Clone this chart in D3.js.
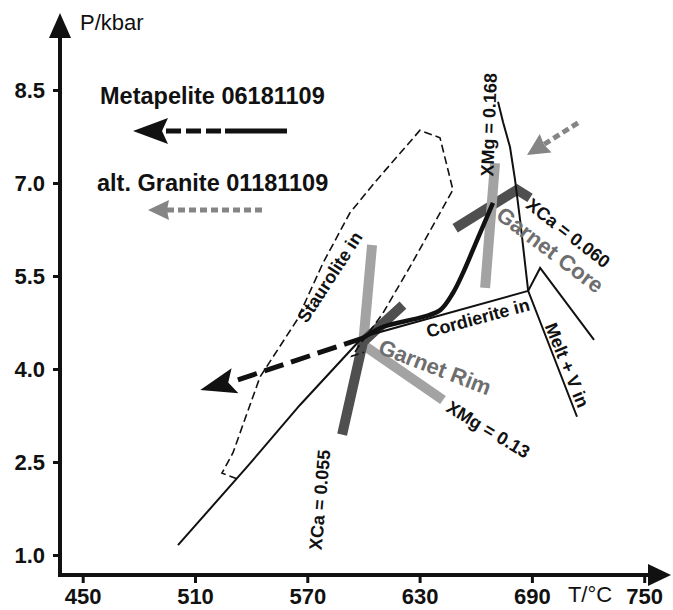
<!DOCTYPE html>
<html>
<head>
<meta charset="utf-8">
<script src="https://cdn.jsdelivr.net/npm/d3@7"></script>
<style>
  body { margin: 0; background: #fff; }
  svg { display: block; font-family: "Liberation Sans", Arial, sans-serif; }
</style>
</head>
<body>
<svg id="chart"></svg>
<script>
// ── Data (T in °C, P in kbar) ───────────────────────────────────────────────
const xTicks = [450, 510, 570, 630, 690, 750];
const yTicks = [1.0, 2.5, 4.0, 5.5, 7.0, 8.5];

// Staurolite-in field outline (dashed)
const stauroliteIn = [[532.4, 2.23], [524.4, 2.32], [530.3, 2.65], [544.7, 3.87], [564.5, 4.79],
  [578.4, 5.71], [592.8, 6.52], [607.2, 7.05], [630.2, 7.85], [640.9, 7.73], [647.8, 6.89],
  [624.9, 5.65], [610.4, 4.90], [598.1, 4.39], [593.9, 4.21], [600.3, 4.27]];

// Thin reaction lines
const cordieriteIn = [[500.9, 1.16], [537.8, 2.42], [566.1, 3.42], [599.8, 4.52], [688.0, 5.26]];
const meltIn = [[671.9, 8.31], [674.6, 7.98], [678.3, 7.58], [681.0, 7.05], [683.7, 6.40],
  [688.0, 5.26], [714.1, 3.23]];
const branchLine = [[688.0, 5.26], [694.4, 5.63], [723.2, 4.47]];

// Garnet isopleths
const coreXMg = [[670.3, 7.32], [665.0, 5.31]];
const coreXCa = [[649.0, 6.27], [682.1, 6.89], [689.0, 6.76]];
const rimXMg  = [[604.6, 6.00], [599.8, 4.39], [642.5, 3.50]];
const rimXCa  = [[621.1, 5.03], [599.8, 4.44], [588.6, 2.94]];

// Metapelite P-T path
const pathSolid  = [[669.2, 6.68], [660.7, 6.08], [653.2, 5.55], [647.9, 5.23], [641.0, 4.95],
  [631.9, 4.84], [610.5, 4.68], [599.8, 4.50]];
const pathDashed = [[599.8, 4.50], [532.4, 3.82]];
const pathTip    = [512.8, 3.66];

// Altered granite arrow
const graniteTail = [714.6, 7.97];
const graniteTip  = [687.4, 7.45];

// Labels: text, T, P, rotation
const labels = [
  { text: 'Staurolite in', T: 582.1, P: 5.48, rot: -57, size: 18, fill: '#111' },
  { text: 'Cordierite in', T: 661.2, P: 4.82, rot: -15, size: 18, fill: '#111' },
  { text: 'Melt + V in',   T: 708.7, P: 4.06, rot: 68,  size: 18, fill: '#111' },
  { text: 'XMg = 0.168',   T: 667.1, P: 7.94, rot: -88, size: 18, fill: '#111' },
  { text: 'XCa = 0.060',   T: 709.3, P: 6.19, rot: 38,  size: 18, fill: '#111' },
  { text: 'Garnet Core',   T: 699.7, P: 5.92, rot: 37,  size: 22, fill: '#6e6e6e' },
  { text: 'Garnet Rim',    T: 638.2, P: 4.03, rot: 21,  size: 22, fill: '#6e6e6e' },
  { text: 'XMg = 0.13',    T: 666.6, P: 3.02, rot: 31,  size: 18, fill: '#111' },
  { text: 'XCa = 0.055',   T: 576.8, P: 1.89, rot: -85, size: 18, fill: '#111' },
];

// ── Setup ───────────────────────────────────────────────────────────────────
const W = 673, H = 610;
const svg = d3.select('#chart').attr('width', W).attr('height', H);

const x = d3.scaleLinear().domain([450, 750]).range([82.7, 644.2]);
const y = d3.scaleLinear().domain([1, 8.5]).range([555, 90]);

const line = d3.line().x(d => x(d[0])).y(d => y(d[1]));
const smooth = d3.line().x(d => x(d[0])).y(d => y(d[1])).curve(d3.curveCatmullRom.alpha(0.5));

// arrowhead polygon: tip, back point for direction, length, half width, notch
function arrowHead(tip, from, len, half, notch) {
  const dx = from[0] - tip[0], dy = from[1] - tip[1];
  const d = Math.hypot(dx, dy), ux = dx / d, uy = dy / d;
  const bx = tip[0] + ux * len, by = tip[1] + uy * len;
  return [tip, [bx - uy * half, by + ux * half],
    [tip[0] + ux * (len - notch), tip[1] + uy * (len - notch)],
    [bx + uy * half, by - ux * half]];
}

// ── Axes ────────────────────────────────────────────────────────────────────
const axisY0 = 575, axisX0 = 60;

svg.append('g')
  .attr('transform', `translate(0,${axisY0})`)
  .call(d3.axisBottom(x).tickValues(xTicks).tickSize(8).tickPadding(5))
  .call(g => g.select('.domain').remove())
  .call(g => g.selectAll('line').attr('stroke', '#111').attr('stroke-width', 3))
  .call(g => g.selectAll('text').attr('fill', '#111').attr('font-size', 22)
    .attr('font-weight', 'bold').attr('font-family', null));

svg.append('g')
  .attr('transform', `translate(${axisX0},0)`)
  .call(d3.axisLeft(y).tickValues(yTicks).tickSize(7).tickPadding(8).tickFormat(d3.format('.1f')))
  .call(g => g.select('.domain').remove())
  .call(g => g.selectAll('line').attr('stroke', '#111').attr('stroke-width', 3))
  .call(g => g.selectAll('text').attr('fill', '#111').attr('font-size', 22)
    .attr('font-weight', 'bold').attr('font-family', null));

// axis lines with arrowheads
svg.append('line').attr('x1', axisX0).attr('y1', axisY0 + 2).attr('x2', axisX0).attr('y2', 32)
  .attr('stroke', '#111').attr('stroke-width', 4);
svg.append('polygon').attr('points', [[60, 13], [49, 38], [71, 38]].join(' ')).attr('fill', '#111');
svg.append('line').attr('x1', axisX0 - 2).attr('y1', axisY0).attr('x2', 655).attr('y2', axisY0)
  .attr('stroke', '#111').attr('stroke-width', 4);
svg.append('polygon').attr('points', [[671, 575], [648, 564], [648, 586]].join(' ')).attr('fill', '#111');

svg.append('text').attr('x', 80).attr('y', 30).attr('font-size', 22).attr('fill', '#111').text('P/kbar');
svg.append('text').attr('x', 590).attr('y', 602).attr('text-anchor', 'middle')
  .attr('font-size', 22).attr('fill', '#111').text('T/°C');

// ── Garnet isopleth bars ────────────────────────────────────────────────────
const bars = svg.append('g').attr('fill', 'none').attr('stroke-width', 10)
  .attr('stroke-linejoin', 'miter');
bars.append('path').attr('d', line(coreXCa)).attr('stroke', '#4f4f4f');
bars.append('path').attr('d', line(coreXMg)).attr('stroke', '#a3a3a3');
bars.append('path').attr('d', line(rimXMg)).attr('stroke', '#a3a3a3');
bars.append('path').attr('d', line(rimXCa)).attr('stroke', '#4f4f4f');

// ── Reaction lines ──────────────────────────────────────────────────────────
const rx = svg.append('g').attr('fill', 'none').attr('stroke', '#111');
rx.append('path').attr('d', line(stauroliteIn)).attr('stroke-width', 1.6)
  .attr('stroke-dasharray', '8,4');
rx.append('path').attr('d', line(cordieriteIn)).attr('stroke-width', 2);
rx.append('path').attr('d', line(meltIn)).attr('stroke-width', 2);
rx.append('path').attr('d', line(branchLine)).attr('stroke-width', 2);

// ── Metapelite path ─────────────────────────────────────────────────────────
const pt = d => [x(d[0]), y(d[1])];
svg.append('path').attr('d', smooth(pathSolid)).attr('fill', 'none')
  .attr('stroke', '#111').attr('stroke-width', 4.5);
svg.append('path').attr('d', line(pathDashed)).attr('fill', 'none')
  .attr('stroke', '#111').attr('stroke-width', 5).attr('stroke-dasharray', '20,8');
svg.append('polygon')
  .attr('points', arrowHead(pt(pathTip), pt(pathDashed[1]), 36, 13, 7).join(' '))
  .attr('fill', '#111');

// ── Altered granite arrow ───────────────────────────────────────────────────
const gTip = pt(graniteTip), gTail = pt(graniteTail);
const gHead = arrowHead(gTip, gTail, 22, 11, 2);
svg.append('line').attr('x1', gTail[0]).attr('y1', gTail[1])
  .attr('x2', gHead[2][0]).attr('y2', gHead[2][1])
  .attr('stroke', '#858585').attr('stroke-width', 5).attr('stroke-dasharray', '7,4');
svg.append('polygon').attr('points', gHead.join(' ')).attr('fill', '#858585');

// ── Labels ──────────────────────────────────────────────────────────────────
svg.append('g').selectAll('text').data(labels).join('text')
  .attr('transform', d => `translate(${x(d.T)},${y(d.P)}) rotate(${d.rot})`)
  .attr('text-anchor', 'middle')
  .attr('dominant-baseline', 'central')
  .attr('font-weight', 'bold')
  .attr('font-size', d => d.size)
  .attr('fill', d => d.fill)
  .text(d => d.text);

// ── Legend ──────────────────────────────────────────────────────────────────
const legend = svg.append('g');
legend.append('text').attr('x', 100).attr('y', 104).attr('font-size', 23.5)
  .attr('font-weight', 'bold').attr('fill', '#111').text('Metapelite 06181109');
const bHead = arrowHead([133, 131], [287, 131], 35, 13, 6);
legend.append('line').attr('x1', 166).attr('y1', 131).attr('x2', 221).attr('y2', 131)
  .attr('stroke', '#111').attr('stroke-width', 5).attr('stroke-dasharray', '15,5');
legend.append('line').attr('x1', 225).attr('y1', 131).attr('x2', 287).attr('y2', 131)
  .attr('stroke', '#111').attr('stroke-width', 5);
legend.append('polygon').attr('points', bHead.join(' ')).attr('fill', '#111');

legend.append('text').attr('x', 97).attr('y', 191).attr('font-size', 23.5)
  .attr('font-weight', 'bold').attr('fill', '#111').text('alt. Granite 01181109');
const lgHead = arrowHead([148, 210], [264, 210], 21, 10, 2);
legend.append('line').attr('x1', lgHead[2][0]).attr('y1', 210).attr('x2', 264).attr('y2', 210)
  .attr('stroke', '#858585').attr('stroke-width', 5).attr('stroke-dasharray', '7,4');
legend.append('polygon').attr('points', lgHead.join(' ')).attr('fill', '#858585');
</script>
</body>
</html>
